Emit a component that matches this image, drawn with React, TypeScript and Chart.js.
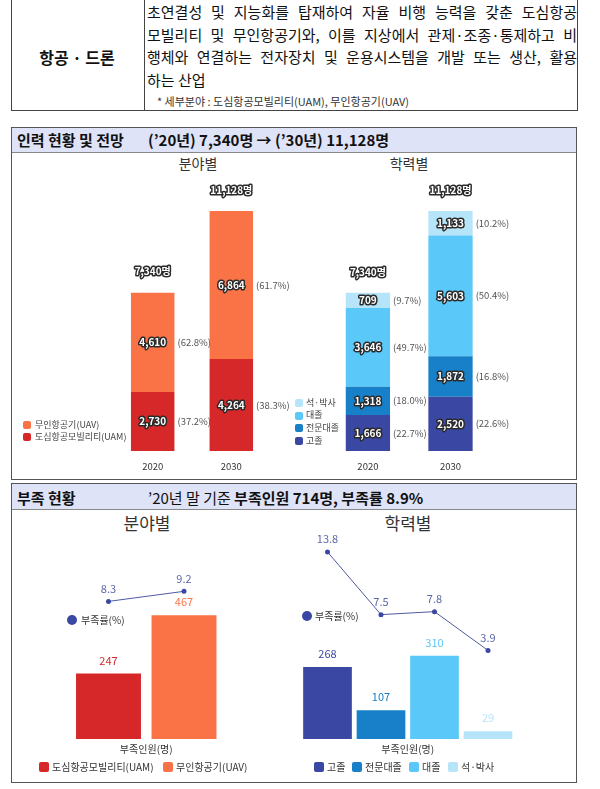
import React, { useEffect, useRef } from 'react';
import { Chart, registerables } from 'chart.js';

Chart.register(...registerables);

const FONT = "'Noto Sans CJK KR', 'Noto Sans', sans-serif";
Chart.defaults.font.family = FONT;

// ---------- data ----------
const years = ['2020', '2030'];
const totals = [7340, 11128];
const uamWorkers = [2730, 4264];
const uavWorkers = [4610, 6864];
const uamShare = ['37.2', '38.3'];
const uavShare = ['62.8', '61.7'];

const highSchool = [1666, 2520];
const college = [1318, 1872];
const university = [3646, 5603];
const graduate = [709, 1133];
const highSchoolShare = ['22.7', '22.6'];
const collegeShare = ['18.0', '16.8'];
const universityShare = ['49.7', '50.4'];
const graduateShare = ['9.7', '10.2'];

const fieldCategories = ['도심항공모빌리티(UAM)', '무인항공기(UAV)'];
const fieldShortage = [247, 467];
const fieldShortageRate = [8.3, 9.2];

const eduCategories = ['고졸', '전문대졸', '대졸', '석·박사'];
const eduShortage = [268, 107, 310, 29];
const eduShortageRate = [13.8, 7.5, 7.8, 3.9];

// ---------- styles ----------
const RED = '#d62828';
const ORANGE = '#fa7346';
const NAVY = '#3a47a3';
const BLUE = '#1780c8';
const SKY = '#5ac8f8';
const PALE = '#b6e5fa';
const LINE = '#4f5aa0';
const LINE_TEXT = '#5c68a8';
const fieldColors = [RED, ORANGE];
const eduColors = [NAVY, BLUE, SKY, PALE];

type Box = { x: number; y: number; w: number; h: number };
type Area = { l: number; r: number; t: number; b: number };

function padFor(b: Box, a: Area, axisH: number) {
  return { left: a.l - b.x, right: b.x + b.w - a.r, top: a.t - b.y, bottom: b.y + b.h - a.b - axisH };
}

const fmt = (v: number) => v.toLocaleString('en-US');

function outlined(ctx: CanvasRenderingContext2D, text: string, x: number, y: number, size = 10) {
  ctx.font = `bold ${size}px ${FONT}`;
  ctx.textAlign = 'center';
  ctx.textBaseline = 'middle';
  ctx.lineJoin = 'round';
  ctx.lineWidth = 3;
  ctx.strokeStyle = '#2a2a2a';
  ctx.strokeText(text, x, y);
  ctx.fillStyle = '#ffffff';
  ctx.fillText(text, x, y);
}

const stackLabels = {
  id: 'stackLabels',
  afterDatasetsDraw(chart: any, _args: any, opts: any) {
    const ctx: CanvasRenderingContext2D = chart.ctx;
    ctx.save();
    const n = chart.data.datasets.length;
    chart.data.datasets.forEach((ds: any, di: number) => {
      const meta = chart.getDatasetMeta(di);
      meta.data.forEach((el: any, i: number) => {
        const { x, y, base, width } = el.getProps(['x', 'y', 'base', 'width'], true);
        const cy = (y + base) / 2;
        outlined(ctx, fmt(ds.data[i]), x, cy);
        ctx.font = `9.5px ${FONT}`;
        ctx.fillStyle = '#555';
        ctx.textAlign = 'left';
        ctx.textBaseline = 'middle';
        ctx.fillText(`(${opts.shares[di][i]}%)`, x + width / 2 + 3, cy);
      });
    });
    const topMeta = chart.getDatasetMeta(n - 1);
    topMeta.data.forEach((el: any, i: number) => {
      outlined(ctx, fmt(opts.totals[i]) + '명', el.x, el.y - 21);
    });
    ctx.restore();
  },
};

const comboLabels = {
  id: 'comboLabels',
  afterDatasetsDraw(chart: any) {
    const ctx: CanvasRenderingContext2D = chart.ctx;
    ctx.save();
    ctx.textAlign = 'center';
    ctx.textBaseline = 'middle';
    ctx.font = `11px ${FONT}`;
    chart.data.datasets.forEach((ds: any, di: number) => {
      const meta = chart.getDatasetMeta(di);
      meta.data.forEach((el: any, i: number) => {
        ctx.fillStyle = ds.type === 'line' ? LINE_TEXT : ds.backgroundColor[i];
        ctx.fillText(String(ds.data[i]), el.x, el.y - 13);
      });
    });
    ctx.restore();
  },
};

function stackedConfig(datasets: any[], shares: string[][], box: Box, area: Area, barPct: number): any {
  const tickSize = 9.5;
  const tickPad = 10;
  return {
    type: 'bar',
    data: {
      labels: years,
      datasets: datasets.map((d) => ({ ...d, barPercentage: barPct, categoryPercentage: 1, borderWidth: 0 })),
    },
    options: {
      responsive: false,
      animation: false,
      devicePixelRatio: 1,
      layout: { padding: padFor(box, area, tickSize * 1.2 + tickPad * 2) },
      plugins: {
        legend: { display: false },
        tooltip: { enabled: false },
        stackLabels: { shares, totals },
      },
      scales: {
        x: {
          stacked: true,
          grid: { display: false, drawTicks: false },
          border: { display: false },
          ticks: { font: { size: tickSize, family: FONT }, color: '#333', padding: tickPad, maxRotation: 0 },
        },
        y: { stacked: true, display: false, min: 0, max: 12000 },
      },
    },
    plugins: [stackLabels],
  };
}

function comboConfig(labels: string[], bars: number[], colors: string[], rates: number[], box: Box, area: Area, barPct: number, yMax: number, y2: [number, number]): any {
  const titleSize = 10;
  return {
    type: 'bar',
    data: {
      labels,
      datasets: [
        {
          type: 'line',
          data: rates,
          yAxisID: 'y2',
          borderColor: LINE,
          borderWidth: 1,
          pointRadius: 2.5,
          pointBackgroundColor: NAVY,
          pointBorderWidth: 0,
          fill: false,
          order: 0,
        },
        {
          type: 'bar',
          data: bars,
          yAxisID: 'y',
          backgroundColor: colors,
          borderWidth: 0,
          barPercentage: barPct,
          categoryPercentage: 1,
          order: 1,
        },
      ],
    },
    options: {
      responsive: false,
      animation: false,
      devicePixelRatio: 1,
      layout: { padding: padFor(box, area, titleSize * 1.2 + 8) },
      plugins: { legend: { display: false }, tooltip: { enabled: false } },
      scales: {
        x: {
          grid: { display: false, drawTicks: false },
          border: { display: false },
          ticks: { display: false },
          title: { display: true, text: '부족인원(명)', color: '#333', font: { size: titleSize, family: FONT }, padding: { top: 4, bottom: 4 } },
        },
        y: { display: false, min: 0, max: yMax },
        y2: { display: false, min: y2[0], max: y2[1], position: 'right' },
      },
    },
    plugins: [comboLabels],
  };
}

function ChartBox({ box, make }: { box: Box; make: () => any }) {
  const ref = useRef<HTMLCanvasElement>(null);
  useEffect(() => {
    const chart = new Chart(ref.current as HTMLCanvasElement, make());
    return () => chart.destroy();
  }, []);
  return (
    <div style={{ position: 'absolute', left: box.x, top: box.y, width: box.w, height: box.h }}>
      <canvas ref={ref} width={box.w} height={box.h} style={{ display: 'block' }} />
    </div>
  );
}

function Txt({ x, y, text, size, bold = false, color = '#222', align = 'left' }: any) {
  const style: React.CSSProperties = {
    position: 'absolute',
    top: y - size * 0.7,
    height: size * 1.4,
    lineHeight: `${size * 1.4}px`,
    fontSize: size,
    fontWeight: bold ? 700 : 400,
    color,
    fontFamily: FONT,
    whiteSpace: 'nowrap',
  };
  if (align === 'center') {
    style.left = x - 150;
    style.width = 300;
    style.textAlign = 'center';
  } else {
    style.left = x;
  }
  return <div style={style}>{text}</div>;
}

function Square({ x, y, size, color, round = 2 }: any) {
  return (
    <div style={{ position: 'absolute', left: x, top: y - size / 2, width: size, height: size, background: color, borderRadius: round }} />
  );
}

const TL_BOX: Box = { x: 12, y: 170, w: 286, h: 315 };
const TL_AREA: Area = { l: 113.4, r: 270.6, t: 192.2, b: 451 };
const TR_BOX: Box = { x: 300, y: 170, w: 275, h: 315 };
const TR_AREA: Area = { l: 326.6, r: 491.8, t: 192.2, b: 451 };
const BL_BOX: Box = { x: 12, y: 528, w: 280, h: 247 };
const BL_AREA: Area = { l: 70.75, r: 221.75, t: 560, b: 739 };
const BR_BOX: Box = { x: 296, y: 528, w: 279, h: 247 };
const BR_AREA: Area = { l: 300.75, r: 514.75, t: 540, b: 739 };

const descLines = [
  '초연결성 및 지능화를 탑재하여 자율 비행 능력을 갖춘 도심항공',
  '모빌리티 및 무인항공기와, 이를 지상에서 관제·조종·통제하고 비',
  '행체와 연결하는 전자장치 및 운용시스템을 개발 또는 생산, 활용',
  '하는 산업',
];

export default function App() {
  const topLeftLegend = [
    { label: '무인항공기(UAV)', color: ORANGE },
    { label: '도심항공모빌리티(UAM)', color: RED },
  ];
  const topRightLegend = [
    { label: eduCategories[3], color: PALE },
    { label: eduCategories[2], color: SKY },
    { label: eduCategories[1], color: BLUE },
    { label: eduCategories[0], color: NAVY },
  ];
  const blLegendX = [39, 163];
  const brLegendX = [314, 352, 409, 448];

  return (
    <div style={{ position: 'absolute', left: 0, top: 0, width: 600, height: 789, background: '#fff', fontFamily: FONT, overflow: 'hidden' }}>
      {/* description table */}
      <div style={{ position: 'absolute', left: 11, top: -1, width: 567, height: 112, border: '1px solid #444', boxSizing: 'border-box' }} />
      <div style={{ position: 'absolute', left: 144, top: 0, width: 1, height: 111, background: '#444' }} />
      <Txt x={77} y={57} text="항공 · 드론" size={16} bold align="center" color="#111" />
      {descLines.map((line, i) => (
        <div
          key={i}
          style={{
            position: 'absolute',
            left: 147,
            top: 12 + i * 22.7 - 11,
            width: 430,
            height: 22,
            lineHeight: '22px',
            fontSize: 15,
            color: '#111',
            textAlign: i < 3 ? 'justify' : 'left',
            textAlignLast: i < 3 ? 'justify' : 'left',
            whiteSpace: 'nowrap',
          }}
        >
          {line}
        </div>
      ))}
      <Txt x={157} y={102} text="*  세부분야 : 도심항공모빌리티(UAM), 무인항공기(UAV)" size={11} color="#333" />

      {/* box 1 */}
      <div style={{ position: 'absolute', left: 11, top: 127, width: 566, height: 353, border: '1px solid #555', boxSizing: 'border-box' }} />
      <div style={{ position: 'absolute', left: 12, top: 128, width: 564, height: 24, background: '#dfe3f8', borderBottom: '1px solid #888' }} />
      <Txt x={17} y={139.5} text="인력 현황 및 전망" size={15} bold color="#111" />
      <Txt x={148} y={139.5} text="(’20년) 7,340명 → (’30년) 11,128명" size={15} bold color="#111" />
      <Txt x={198} y={164} text="분야별" size={14} color="#333" align="center" />
      <Txt x={409} y={164} text="학력별" size={14} color="#333" align="center" />

      {/* box 2 */}
      <div style={{ position: 'absolute', left: 11, top: 483, width: 566, height: 300, border: '1px solid #555', boxSizing: 'border-box' }} />
      <div style={{ position: 'absolute', left: 12, top: 484, width: 564, height: 25, background: '#dfe3f8', borderBottom: '1px solid #888' }} />
      <Txt x={17} y={497} text="부족 현황" size={15} bold color="#111" />
      <div style={{ position: 'absolute', left: 148, top: 497 - 10.5, height: 21, lineHeight: '21px', fontSize: 15, color: '#111', whiteSpace: 'nowrap' }}>
        ’20년 말 기준 <b>부족인원 714명, 부족률 8.9%</b>
      </div>
      <Txt x={147} y={523} text="분야별" size={17} color="#333" align="center" />
      <Txt x={408} y={523} text="학력별" size={17} color="#333" align="center" />

      {/* charts */}
      <ChartBox
        box={TL_BOX}
        make={() =>
          stackedConfig(
            [
              { label: fieldCategories[0], data: uamWorkers, backgroundColor: RED },
              { label: fieldCategories[1], data: uavWorkers, backgroundColor: ORANGE },
            ],
            [uamShare, uavShare],
            TL_BOX,
            TL_AREA,
            0.553
          )
        }
      />
      <ChartBox
        box={TR_BOX}
        make={() =>
          stackedConfig(
            [
              { label: eduCategories[0], data: highSchool, backgroundColor: NAVY },
              { label: eduCategories[1], data: college, backgroundColor: BLUE },
              { label: eduCategories[2], data: university, backgroundColor: SKY },
              { label: eduCategories[3], data: graduate, backgroundColor: PALE },
            ],
            [highSchoolShare, collegeShare, universityShare, graduateShare],
            TR_BOX,
            TR_AREA,
            0.536
          )
        }
      />
      <ChartBox
        box={BL_BOX}
        make={() => comboConfig(fieldCategories, fieldShortage, fieldColors, fieldShortageRate, BL_BOX, BL_AREA, 0.86, 675, [-4, 12])}
      />
      <ChartBox
        box={BR_BOX}
        make={() => comboConfig(eduCategories, eduShortage, eduColors, eduShortageRate, BR_BOX, BR_AREA, 0.91, 742, [-5, 15])}
      />

      {/* legends */}
      {topLeftLegend.map((it, i) => (
        <React.Fragment key={'tl' + i}>
          <Square x={23} y={425 + i * 12} size={8} color={it.color} />
          <Txt x={35} y={425 + i * 12} text={it.label} size={9} color="#444" />
        </React.Fragment>
      ))}
      {topRightLegend.map((it, i) => (
        <React.Fragment key={'tr' + i}>
          <Square x={295} y={403 + i * 12.7} size={8} color={it.color} />
          <Txt x={306} y={403 + i * 12.7} text={it.label} size={9} color="#444" />
        </React.Fragment>
      ))}

      <div style={{ position: 'absolute', left: 67, top: 615, width: 10, height: 10, borderRadius: 5, background: NAVY }} />
      <Txt x={81} y={620} text="부족률(%)" size={10} color="#333" />
      <div style={{ position: 'absolute', left: 302, top: 611, width: 10, height: 10, borderRadius: 5, background: NAVY }} />
      <Txt x={315} y={616} text="부족률(%)" size={10} color="#333" />

      {fieldCategories.map((c, i) => (
        <React.Fragment key={'bl' + i}>
          <Square x={blLegendX[i]} y={767} size={10} color={fieldColors[i]} />
          <Txt x={blLegendX[i] + 13} y={767} text={c} size={10} color="#333" />
        </React.Fragment>
      ))}
      {eduCategories.map((c, i) => (
        <React.Fragment key={'br' + i}>
          <Square x={brLegendX[i]} y={767} size={10} color={eduColors[i]} />
          <Txt x={brLegendX[i] + 13} y={767} text={c} size={10} color="#333" />
        </React.Fragment>
      ))}
    </div>
  );
}
